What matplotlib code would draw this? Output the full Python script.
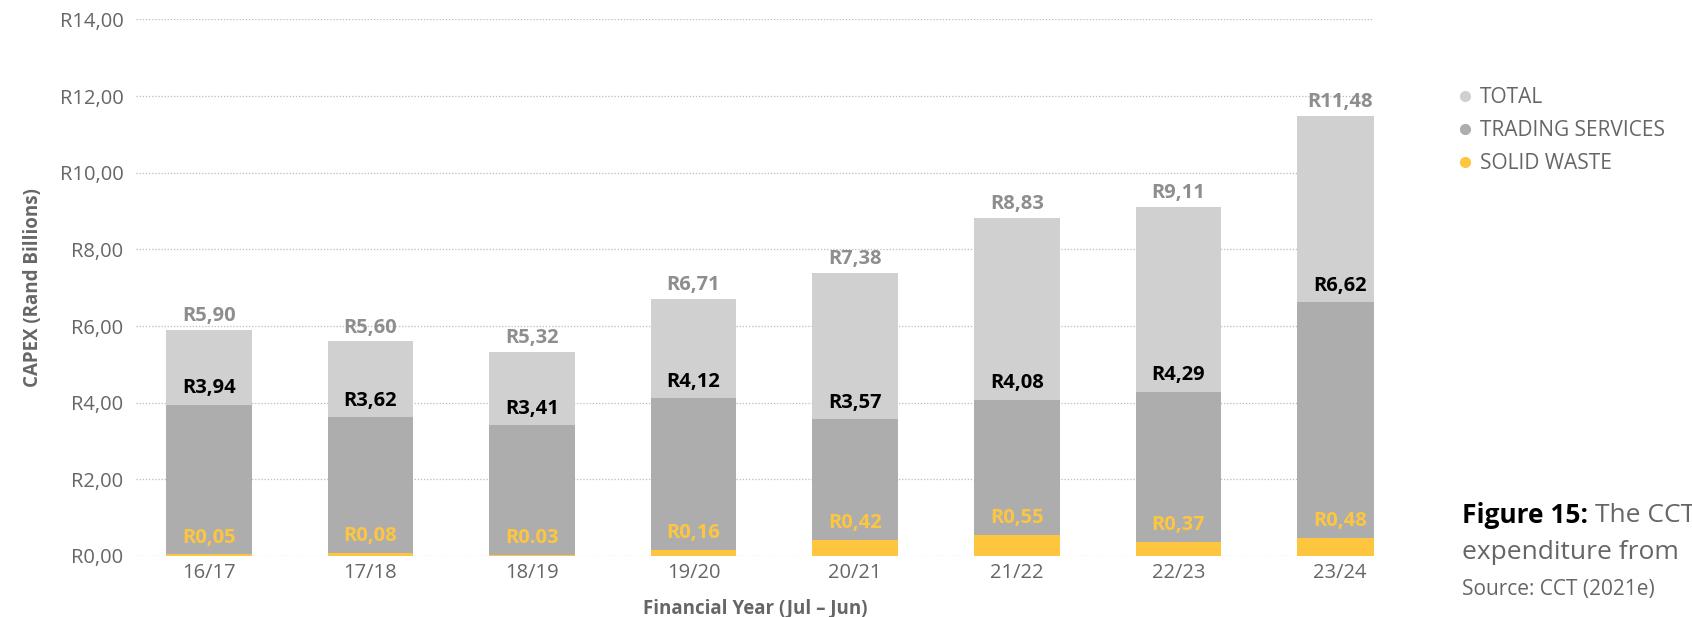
import matplotlib.pyplot as plt
from matplotlib.lines import Line2D

plt.rcParams["font.family"] = ["Open Sans", "DejaVu Sans"]

years = ["16/17", "17/18", "18/19", "19/20", "20/21", "21/22", "22/23", "23/24"]
total = [5.90, 5.60, 5.32, 6.71, 7.38, 8.83, 9.11, 11.48]
trading = [3.94, 3.62, 3.41, 4.12, 3.57, 4.08, 4.29, 6.62]
solid_waste = [0.05, 0.08, 0.03, 0.16, 0.42, 0.55, 0.37, 0.48]
solid_waste_labels = ["R0,05", "R0,08", "R0.03", "R0,16", "R0,42", "R0,55", "R0,37", "R0,48"]
yticks = [0, 2, 4, 6, 8, 10, 12, 14]

c_total = "#D1D0D1"
c_trading = "#AEADAE"
c_waste = "#FDC63E"


def rand(v):
    return "R" + f"{v:.2f}".replace(".", ",")


fig = plt.figure(figsize=(16.92, 6.17), dpi=100)
ax = fig.add_axes([0.0804, 0.0989, 0.7316, 0.8695])

x = list(range(len(years)))
w = 0.53
ax.bar(x, total, width=w, color=c_total, zorder=2)
ax.bar(x, trading, width=w, color=c_trading, zorder=3)
ax.bar(x, solid_waste, width=w, color=c_waste, zorder=4)

for i in x:
    ax.text(i, total[i] + 0.1, rand(total[i]), ha="center", va="bottom",
            fontsize=14.5, fontweight="bold", color="#8E8E8E", zorder=5)
    ax.text(i, trading[i] + 0.17, rand(trading[i]), ha="center", va="bottom",
            fontsize=14.5, fontweight="bold", color="black", zorder=5)
    ax.text(i, solid_waste[i] + 0.17, solid_waste_labels[i], ha="center", va="bottom",
            fontsize=14.5, fontweight="bold", color=c_waste, zorder=5)

ax.set_xlim(-0.45, 7.21)
ax.set_ylim(0, 14)
ax.set_xticks(x)
ax.set_xticklabels(years)
ax.set_yticks(yticks)
ax.set_yticklabels([rand(v) for v in yticks])
ax.tick_params(length=0, labelsize=14.5, labelcolor="#666666")
ax.tick_params(axis="y", pad=9)
ax.tick_params(axis="x", pad=5)
ax.grid(axis="y", linestyle=(0, (1, 1.5)), color="#BBBBBB", linewidth=0.9, zorder=0)
for s in ax.spines.values():
    s.set_visible(False)

ax.set_ylabel("CAPEX (Rand Billions)", fontsize=13.5, fontweight="bold", color="#666666", labelpad=12)
ax.set_xlabel("Financial Year (Jul – Jun)", fontsize=13.5, fontweight="bold", color="#666666", labelpad=11)

handles = [
    Line2D([], [], marker="o", linestyle="", color=c_total, markersize=7),
    Line2D([], [], marker="o", linestyle="", color=c_trading, markersize=7),
    Line2D([], [], marker="o", linestyle="", color=c_waste, markersize=7),
]
leg = fig.legend(handles, ["TOTAL", "TRADING SERVICES", "SOLID WASTE"],
                 loc="upper left", bbox_to_anchor=(0.855, 0.872), frameon=False,
                 fontsize=15, handletextpad=0.2, labelspacing=0.58, handlelength=1.0,
                 borderaxespad=0)
for t in leg.get_texts():
    t.set_color("#666666")

t1 = fig.text(0.864, 0.165, "Figure 15:", fontsize=19, fontweight="bold", color="black", va="center")
ax.annotate("The CCT", xy=(1, 0.5), xycoords=t1, xytext=(5, 0), textcoords="offset points",
            fontsize=19, color="#666666", va="center", ha="left", annotation_clip=False)
fig.text(0.864, 0.105, "expenditure from", fontsize=19, color="#666666", va="center")
fig.text(0.864, 0.044, "Source: CCT (2021e)", fontsize=15, color="#666666", va="center")

fig.savefig("out.png", dpi=100)
